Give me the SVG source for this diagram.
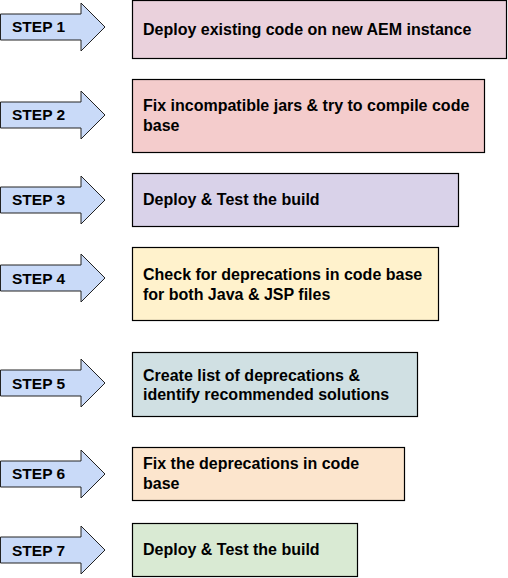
<svg xmlns="http://www.w3.org/2000/svg" width="508" height="578" viewBox="0 0 508 578">
<style>
.arr{fill:#c9daf8;stroke:#222;stroke-width:1}
.box{stroke:#000;stroke-width:1.2}
.lbl{font-family:"Liberation Sans",Arial,sans-serif;font-weight:bold;font-size:15.5px;fill:#000}
.txt{font-family:"Liberation Sans",Arial,sans-serif;font-weight:bold;font-size:16px;fill:#000}
</style>
<defs>
<path id="arrow" d="M0.5,-13 L81,-13 L81,-24 L105,0 L81,24 L81,13 L0.5,13 Z"/>
</defs>
<rect width="508" height="578" fill="#fff"/>
<g id="connectors">
<use href="#arrow" class="arr" transform="translate(0,27)"/>
<use href="#arrow" class="arr" transform="translate(0,115)"/>
<use href="#arrow" class="arr" transform="translate(0,200)"/>
<use href="#arrow" class="arr" transform="translate(0,278)"/>
<use href="#arrow" class="arr" transform="translate(0,383)"/>
<use href="#arrow" class="arr" transform="translate(0,474)"/>
<use href="#arrow" class="arr" transform="translate(0,550)"/>
</g>
<g id="step1"><text class="lbl" x="12" y="32">STEP 1</text></g>
<g id="step2"><text class="lbl" x="12" y="120">STEP 2</text></g>
<g id="step3"><text class="lbl" x="12" y="205">STEP 3</text></g>
<g id="step4"><text class="lbl" x="12" y="284">STEP 4</text></g>
<g id="step5"><text class="lbl" x="12" y="389">STEP 5</text></g>
<g id="step6"><text class="lbl" x="12" y="479">STEP 6</text></g>
<g id="step7"><text class="lbl" x="12" y="556">STEP 7</text></g>
<g id="box1"><rect class="box" x="132.5" y="0.5" width="374" height="58" fill="#ead1dc"/><text class="txt" x="143" y="35">Deploy existing code on new AEM instance</text></g>
<g id="box2"><rect class="box" x="132.5" y="79.5" width="352" height="73" fill="#f4cccc"/><text class="txt" x="143" y="111">Fix incompatible jars &amp; try to compile code</text><text class="txt" x="143" y="131">base</text></g>
<g id="box3"><rect class="box" x="132.5" y="173.5" width="326" height="53" fill="#d9d2e9"/><text class="txt" x="143" y="205">Deploy &amp; Test the build</text></g>
<g id="box4"><rect class="box" x="132.5" y="247.5" width="306" height="73" fill="#fff2cc"/><text class="txt" x="143" y="280">Check for deprecations in code base</text><text class="txt" x="143" y="300">for both Java &amp; JSP files</text></g>
<g id="box5"><rect class="box" x="132.5" y="352.5" width="285" height="64" fill="#d0e0e3"/><text class="txt" x="143" y="381">Create list of deprecations &amp;</text><text class="txt" x="143" y="400">identify recommended solutions</text></g>
<g id="box6"><rect class="box" x="132.5" y="447.5" width="272" height="53" fill="#fce5cd"/><text class="txt" x="143" y="469">Fix the deprecations in code</text><text class="txt" x="143" y="489">base</text></g>
<g id="box7"><rect class="box" x="132.5" y="523.5" width="225" height="53" fill="#d9ead3"/><text class="txt" x="143" y="555">Deploy &amp; Test the build</text></g>
</svg>
